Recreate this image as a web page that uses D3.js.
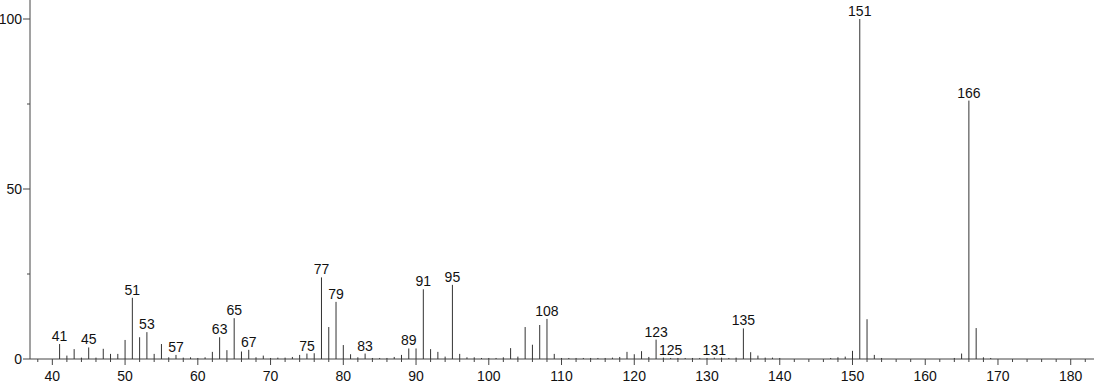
<!DOCTYPE html>
<html>
<head>
<meta charset="utf-8">
<script src="https://cdn.jsdelivr.net/npm/d3@7"></script>
<style>
  html, body { margin: 0; padding: 0; background: #fff; }
  svg { display: block; font-family: "Liberation Sans", Arial, sans-serif; }
</style>
</head>
<body>
<svg width="1094" height="384"></svg>
<script>
// m/z and relative intensity
var mz = [41, 42, 43, 44, 45, 46, 47, 48, 49, 50,
    51, 52, 53, 54, 55, 56, 57, 58, 59, 60,
    61, 62, 63, 64, 65, 66, 67, 68, 69, 70,
    71, 72, 73, 74, 75, 76, 77, 78, 79, 80,
    81, 82, 83, 84, 85, 86, 87, 88, 89, 90,
    91, 92, 93, 94, 95, 96, 97, 98, 99, 100,
    101, 102, 103, 104, 105, 106, 107, 108, 109, 110,
    111, 112, 113, 114, 115, 116, 117, 118, 119, 120,
    121, 122, 123, 124, 125, 126, 127, 128, 129, 130,
    131, 132, 133, 134, 135, 136, 137, 138, 139, 140,
    147, 148, 149, 150, 151, 152, 153, 154,
    164, 165, 166, 167, 168, 169];
var intensity = [4.4, 1.0, 2.9, 0.4, 3.4, 0.4, 3.0, 1.5, 1.5, 5.6,
    18.0, 6.4, 7.9, 1.5, 4.4, 0.5, 1.2, 0.4, 0.5, 0.3,
    0.5, 2.1, 6.4, 2.6, 12.0, 2.2, 2.7, 0.5, 1.0, 0.3,
    0.4, 0.4, 0.6, 1.2, 1.6, 1.7, 24.0, 9.4, 16.8, 4.1,
    1.4, 0.5, 1.6, 0.3, 0.3, 0.3, 0.6, 1.2, 3.1, 3.1,
    20.5, 2.9, 2.1, 0.7, 21.8, 1.5, 0.5, 0.5, 0.3, 0.3,
    0.3, 0.5, 3.2, 0.7, 9.4, 4.2, 10.0, 11.8, 1.5, 0.3,
    0.3, 0.3, 0.3, 0.3, 0.3, 0.3, 0.4, 0.6, 2.1, 1.4,
    2.3, 0.6, 5.7, 0.4, 0.3, 0.3, 0.3, 0.3, 0.3, 0.3,
    0.4, 0.4, 0.3, 0.4, 9.0, 2.0, 1.0, 0.4, 0.4, 0.3,
    0.3, 0.5, 0.7, 2.4, 100, 11.7, 1.2, 0.3,
    0.3, 1.6, 76, 9.1, 0.5, 0.3];
var labelled = [41, 45, 51, 53, 57, 63, 65, 67, 75, 77, 79, 83, 89, 91, 95,
    108, 123, 125, 131, 135, 151, 166];
var xMajor = [40, 50, 60, 70, 80, 90, 100, 110, 120, 130, 140, 150, 160, 170, 180];
var yMajor = [0, 50, 100];
var yMinor = [25, 75];

var peaks = mz.map(function (m, i) { return {mz: m, v: intensity[i]}; });

var svg = d3.select("svg"),
    width = +svg.attr("width"),
    height = +svg.attr("height"),
    left = 30, base = 359;

var x = d3.scaleLinear().domain([36.93, 183.2]).range([left, width]);
var y = d3.scaleLinear().domain([0, 100]).range([base, 19]);

var xMinor = d3.range(38, 184, 2).filter(function (d) { return d % 10 != 0; });

var ink = "#444";

// y axis
var yAxis = svg.append("g")
    .attr("transform", "translate(" + left + ",0)");
yAxis.append("line")
    .attr("x1", 0).attr("x2", 0)
    .attr("y1", 0).attr("y2", base)
    .attr("stroke", ink);
yAxis.selectAll(".ymaj").data(yMajor).enter().append("line")
    .attr("x1", -7).attr("x2", 0)
    .attr("y1", function (d) { return y(d); })
    .attr("y2", function (d) { return y(d); })
    .attr("stroke", ink);
yAxis.selectAll(".ymin").data(yMinor).enter().append("line")
    .attr("x1", -3).attr("x2", 0)
    .attr("y1", function (d) { return y(d); })
    .attr("y2", function (d) { return y(d); })
    .attr("stroke", ink);
yAxis.selectAll("text").data(yMajor).enter().append("text")
    .attr("x", -8)
    .attr("y", function (d) { return y(d); })
    .attr("dy", "0.36em")
    .attr("text-anchor", "end")
    .style("font-size", "14px")
    .attr("fill", "#111")
    .text(function (d) { return d; });

// x axis
var xAxis = svg.append("g")
    .attr("transform", "translate(0," + base + ")");
xAxis.append("line")
    .attr("x1", left).attr("x2", width)
    .attr("y1", 0).attr("y2", 0)
    .attr("stroke", ink);
xAxis.selectAll(".xmaj").data(xMajor).enter().append("line")
    .attr("x1", function (d) { return x(d); })
    .attr("x2", function (d) { return x(d); })
    .attr("y1", 0).attr("y2", 6)
    .attr("stroke", ink);
xAxis.selectAll(".xmin").data(xMinor).enter().append("line")
    .attr("x1", function (d) { return x(d); })
    .attr("x2", function (d) { return x(d); })
    .attr("y1", 0).attr("y2", 3)
    .attr("stroke", ink);
xAxis.selectAll("text").data(xMajor).enter().append("text")
    .attr("x", function (d) { return x(d); })
    .attr("y", 21.5)
    .attr("text-anchor", "middle")
    .style("font-size", "14px")
    .attr("fill", "#111")
    .text(function (d) { return d; });

// peaks
svg.append("g").selectAll("line").data(peaks).enter().append("line")
    .attr("x1", function (d) { return x(d.mz); })
    .attr("x2", function (d) { return x(d.mz); })
    .attr("y1", base)
    .attr("y2", function (d) { return y(d.v); })
    .attr("stroke", "#333")
    .attr("stroke-width", 1);

// peak labels
svg.append("g").selectAll("text")
    .data(peaks.filter(function (d) { return labelled.indexOf(d.mz) >= 0; }))
    .enter().append("text")
    .attr("x", function (d) { return x(d.mz); })
    .attr("y", function (d) { return y(d.v) - 3; })
    .attr("text-anchor", "middle")
    .style("font-size", "14px")
    .attr("fill", "#111")
    .text(function (d) { return d.mz; });
</script>
</body>
</html>
